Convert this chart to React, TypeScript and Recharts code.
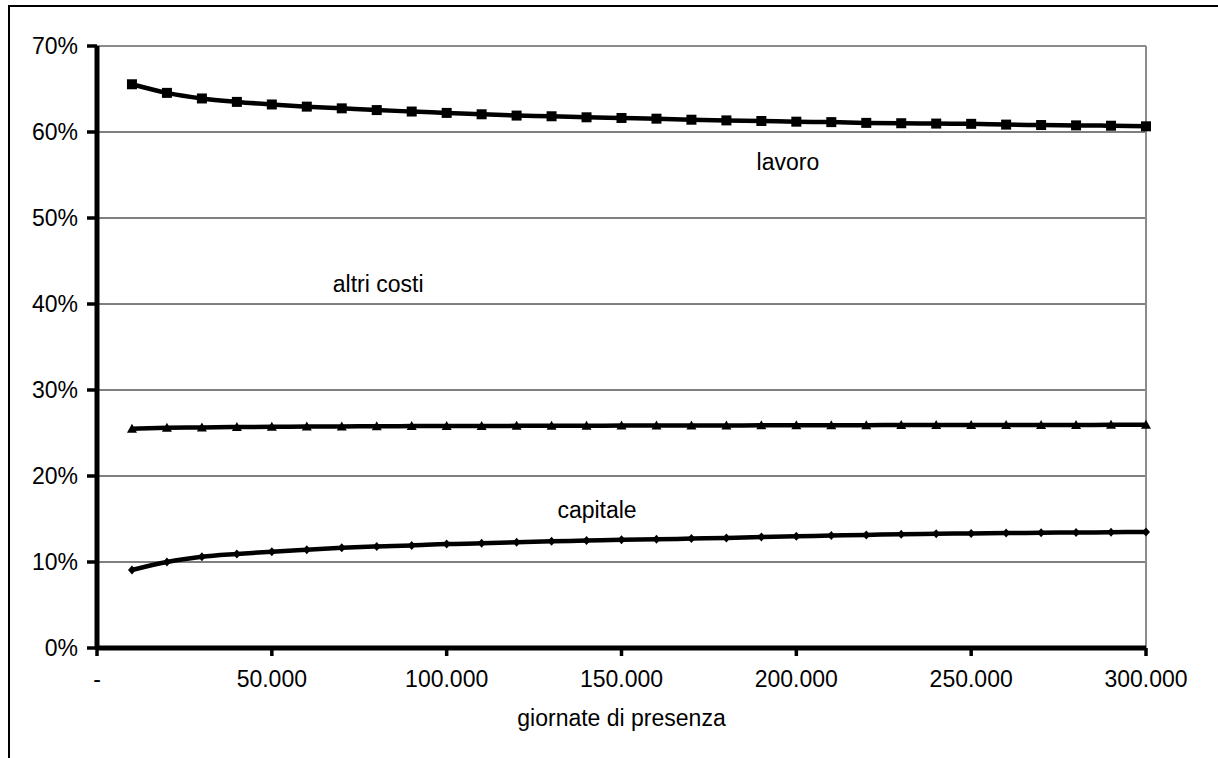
import React from 'react';
import {
  LineChart,
  Line,
  XAxis,
  YAxis,
  CartesianGrid,
  ReferenceLine,
  ReferenceDot,
} from 'recharts';

const giornate = [
  10000, 20000, 30000, 40000, 50000, 60000, 70000, 80000, 90000, 100000,
  110000, 120000, 130000, 140000, 150000, 160000, 170000, 180000, 190000, 200000,
  210000, 220000, 230000, 240000, 250000, 260000, 270000, 280000, 290000, 300000,
];

const lavoro = [
  65.55, 64.55, 63.9, 63.5, 63.2, 62.95, 62.75, 62.55, 62.38, 62.22,
  62.06, 61.91, 61.83, 61.71, 61.63, 61.55, 61.43, 61.35, 61.28, 61.2,
  61.15, 61.06, 61.02, 60.98, 60.95, 60.86, 60.81, 60.77, 60.73, 60.66,
];

const altriCosti = [
  25.5, 25.6, 25.65, 25.7, 25.72, 25.75, 25.77, 25.78, 25.8, 25.8,
  25.82, 25.83, 25.84, 25.85, 25.86, 25.87, 25.88, 25.88, 25.89, 25.9,
  25.9, 25.91, 25.92, 25.92, 25.93, 25.93, 25.94, 25.94, 25.95, 25.95,
];

const capitale = [
  9.07, 10.0, 10.6, 10.93, 11.2, 11.43, 11.65, 11.8, 11.93, 12.09,
  12.17, 12.29, 12.41, 12.49, 12.6, 12.64, 12.72, 12.8, 12.92, 13.0,
  13.07, 13.15, 13.23, 13.28, 13.32, 13.36, 13.4, 13.43, 13.46, 13.5,
];

const xTicks = [0, 50000, 100000, 150000, 200000, 250000, 300000];
const xTickLabels = ['-', '50.000', '100.000', '150.000', '200.000', '250.000', '300.000'];
const yTicks = [0, 10, 20, 30, 40, 50, 60, 70];

const seriesLabels = [
  { text: 'lavoro', x: 197600, y: 56.5 },
  { text: 'altri costi', x: 80400, y: 42.35 },
  { text: 'capitale', x: 143000, y: 16.1 },
];

const data = giornate.map((g, i) => ({
  g,
  lavoro: lavoro[i],
  altri: altriCosti[i],
  capitale: capitale[i],
}));

const FONT = '"Liberation Sans", Arial, Helvetica, sans-serif';
const FS = 23;

const SquareDot = (props: any) => {
  const { cx, cy, index } = props;
  if (cx == null || cy == null) return <g key={index} />;
  return <rect key={index} x={cx - 5} y={cy - 5} width={10} height={10} fill="#000" />;
};

const TriangleDot = (props: any) => {
  const { cx, cy, index } = props;
  if (cx == null || cy == null) return <g key={index} />;
  return (
    <polygon
      key={index}
      points={`${cx},${cy - 5} ${cx + 5},${cy + 4} ${cx - 5},${cy + 4}`}
      fill="#000"
    />
  );
};

const DiamondDot = (props: any) => {
  const { cx, cy, index } = props;
  if (cx == null || cy == null) return <g key={index} />;
  return (
    <polygon
      key={index}
      points={`${cx},${cy - 4.5} ${cx + 4},${cy} ${cx},${cy + 4.5} ${cx - 4},${cy}`}
      fill="#000"
    />
  );
};

export default function App() {
  return (
    <div style={{ position: 'absolute', left: 0, top: 0, width: 1218, height: 758, overflow: 'hidden', background: '#fff' }}>
      <div style={{ position: 'absolute', left: 8, top: 5, width: 1210, height: 2, background: '#000' }} />
      <div style={{ position: 'absolute', left: 8, top: 5, width: 2, height: 753, background: '#000' }} />
      <div style={{ position: 'absolute', left: 10, top: 7 }}>
        <LineChart
          width={1208}
          height={750}
          data={data}
          margin={{ top: 39, right: 72, left: 0, bottom: 31 }}
          style={{ fontFamily: FONT }}
        >
          <CartesianGrid horizontal vertical={false} stroke="#000" strokeWidth={1} />
          <ReferenceLine y={70} stroke="#8c8c8c" strokeWidth={2} />
          <ReferenceLine x={300000} stroke="#8c8c8c" strokeWidth={2} />
          <XAxis
            dataKey="g"
            type="number"
            domain={[0, 300000]}
            ticks={xTicks}
            tickFormatter={(v: number) => xTickLabels[xTicks.indexOf(v)] ?? ''}
            height={78}
            tickSize={8}
            tickMargin={15}
            axisLine={{ stroke: '#000', strokeWidth: 5 }}
            tickLine={{ stroke: '#000', strokeWidth: 3.5 }}
            tick={{ fill: '#000', fontSize: FS, fontFamily: FONT }}
            interval={0}
            label={{
              value: 'giornate di presenza',
              position: 'insideBottom',
              offset: 0,
              fill: '#000',
              fontSize: FS,
              fontFamily: FONT,
            }}
          />
          <YAxis
            type="number"
            domain={[0, 70]}
            ticks={yTicks}
            tickFormatter={(v: number) => `${v}%`}
            width={87}
            tickSize={10}
            tickMargin={9}
            axisLine={{ stroke: '#000', strokeWidth: 5 }}
            tickLine={{ stroke: '#000', strokeWidth: 3.5 }}
            tick={{ fill: '#000', fontSize: FS, fontFamily: FONT }}
            interval={0}
          />
          <Line
            type="monotone"
            dataKey="lavoro"
            stroke="#000"
            strokeWidth={4.5}
            dot={SquareDot}
            activeDot={false}
            isAnimationActive={false}
          />
          <Line
            type="monotone"
            dataKey="altri"
            stroke="#000"
            strokeWidth={4.5}
            dot={TriangleDot}
            activeDot={false}
            isAnimationActive={false}
          />
          <Line
            type="monotone"
            dataKey="capitale"
            stroke="#000"
            strokeWidth={4.5}
            dot={DiamondDot}
            activeDot={false}
            isAnimationActive={false}
          />
          {seriesLabels.map((l) => (
            <ReferenceDot
              key={l.text}
              x={l.x}
              y={l.y}
              r={0}
              fill="none"
              stroke="none"
              ifOverflow="visible"
              label={{
                value: l.text,
                position: 'center',
                fill: '#000',
                fontSize: FS,
                fontFamily: FONT,
              }}
            />
          ))}
        </LineChart>
      </div>
    </div>
  );
}
